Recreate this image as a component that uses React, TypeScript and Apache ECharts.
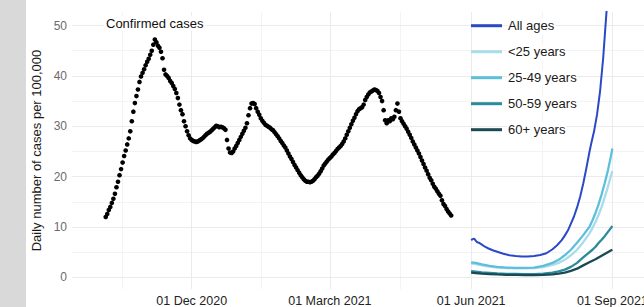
import React, { useEffect, useRef } from "react";
import * as echarts from "echarts";

// Day index: 0 = 01 Sep 2020
const xTickDays = [91, 181, 273, 365];
const xTickLabels = ["01 Dec 2020", "01 March 2021", "01 Jun 2021", "01 Sep 2021"];
const xMinorDays = [45.5, 136, 227, 319];
const yTicks = [0, 10, 20, 30, 40, 50];
const yMinor = [5, 15, 25, 35, 45];

const casesStartDay = 35;
const caseValues = [
  12.0, 12.6, 13.4, 14.0, 14.8, 15.6, 16.6, 17.9, 19.0, 20.3,
  21.5, 22.8, 24.1, 25.2, 26.4, 27.6, 29.0, 31.0, 32.9, 34.6,
  36.0, 37.3, 38.8, 39.9, 40.6, 41.3, 42.1, 42.8, 43.4, 44.2,
  45.0, 46.2, 47.2, 46.7, 46.0, 45.6, 44.8, 43.5, 41.2, 40.3,
  40.0, 39.6, 39.0, 38.6, 38.0, 37.4, 36.6, 35.6, 34.3, 33.2,
  32.4, 31.0, 30.0, 29.0, 28.2, 27.6, 27.3, 27.1, 27.0, 26.9,
  27.0, 27.2, 27.4, 27.6, 27.9, 28.2, 28.5, 28.7, 28.9, 29.2,
  29.5, 29.8, 30.1, 30.0, 29.8, 29.9, 29.8, 29.6, 29.3, 27.3,
  25.6, 24.8, 24.7, 25.0, 25.6, 26.1, 26.7, 27.3, 27.9, 28.5,
  29.1, 29.7, 30.6, 32.2, 33.6, 34.5, 34.6, 34.4, 33.6, 32.9,
  32.3, 31.6, 31.1, 30.7, 30.3, 30.1, 29.9, 29.7, 29.4, 29.2,
  28.8, 28.4, 28.0, 27.6, 27.1, 26.7, 26.2, 25.8, 25.2, 24.6,
  24.0, 23.5, 22.9, 22.3, 21.8, 21.3, 20.8, 20.3, 19.9, 19.5,
  19.2, 19.0, 19.0, 18.9, 19.0, 19.2, 19.5, 19.9, 20.2, 20.6,
  21.1, 21.6, 22.2, 22.6, 23.0, 23.4, 23.7, 24.0, 24.4, 24.7,
  25.1, 25.5, 25.8, 26.1, 26.5, 27.0, 27.6, 28.3, 29.0, 29.7,
  30.4, 31.1, 31.7, 32.4, 33.0, 33.4, 33.6, 33.8, 34.3, 35.2,
  35.8, 36.3, 36.7, 36.9, 37.1, 37.3, 37.2, 37.0, 36.6, 35.8,
  35.0, 33.2, 31.2, 30.6, 31.2, 31.0, 31.6, 31.4, 31.9, 33.2,
  34.5, 32.9, 31.6, 31.0, 30.5, 30.0, 29.5, 28.9, 28.3, 27.7,
  27.0, 26.4, 25.8, 25.2, 24.6, 23.9, 23.2, 22.5, 21.8, 21.2,
  20.5, 19.8, 19.3, 18.6, 18.0, 17.6, 17.1, 16.6, 16.2, 15.3,
  14.6, 14.2, 13.6, 13.1, 12.7, 12.3,
];

const allAgesDays = [273, 274, 275, 276, 277, 278, 280, 282, 284, 287, 290, 294, 298, 302, 306, 310, 314, 318, 322, 326, 329, 332, 334, 336, 338, 340, 342, 344, 346, 348, 350, 351, 353, 355, 357, 359, 361, 363, 365];
const allAgesValues = [7.4, 7.6, 7.7, 7.3, 7.0, 6.9, 6.5, 6.1, 5.8, 5.4, 5.1, 4.7, 4.4, 4.25, 4.15, 4.15, 4.25, 4.45, 4.8, 5.6, 6.4, 7.4, 8.3, 9.3, 10.7, 12.1, 13.9, 16.0, 18.6, 21.6, 24.8, 26.3, 28.9, 32.3, 37.0, 43.5, 52.0, 60.0, 69.0];

const projDays = [273, 276, 280, 285, 290, 296, 302, 308, 314, 320, 326, 330, 334, 338, 342, 346, 350, 352, 354, 356, 358, 360, 362, 364, 365];
const under25Values = [2.8, 2.65, 2.4, 2.15, 1.95, 1.85, 1.8, 1.8, 1.85, 2.05, 2.5, 2.9, 3.5, 4.4, 5.5, 7.0, 8.7, 9.8, 11.0, 12.4, 14.0, 15.9, 17.9, 20.1, 21.1];
const age25to49Values = [3.0, 2.9, 2.6, 2.3, 2.1, 1.95, 1.9, 1.9, 1.95, 2.3, 2.9, 3.5, 4.4, 5.5, 6.9, 8.4, 10.0, 11.3, 12.8, 14.5, 16.5, 18.7, 21.1, 24.0, 25.6];
const age50to59Values = [1.25, 1.15, 1.0, 0.9, 0.8, 0.72, 0.7, 0.65, 0.66, 0.75, 0.95, 1.2, 1.55, 2.1, 2.9, 4.0, 5.0, 5.5, 6.1, 6.85, 7.5, 8.2, 9.0, 9.8, 10.2];
const age60plusValues = [0.95, 0.88, 0.75, 0.68, 0.6, 0.53, 0.5, 0.47, 0.45, 0.5, 0.6, 0.75, 0.95, 1.3, 1.75, 2.4, 3.0, 3.3, 3.6, 3.95, 4.3, 4.65, 5.0, 5.35, 5.5];

const seriesNames = ["All ages", "<25 years", "25-49 years", "50-59 years", "60+ years"];
const seriesColors = ["#2a49c6", "#a9dcea", "#5cc0db", "#2b8b9c", "#1b4a54"];

const FONT = "'Liberation Sans', Arial, Helvetica, sans-serif";

export default function App() {
  const ref = useRef<HTMLDivElement>(null);
  useEffect(() => {
    if (!ref.current) return;
    const chart = echarts.init(ref.current, undefined, { renderer: "svg" });
    const pair = (days: number[], vals: number[]) => days.map((d, i) => [d, vals[i]]);
    const lineVals = [allAgesValues, under25Values, age25to49Values, age50to59Values, age60plusValues];
    const lineDays = [allAgesDays, projDays, projDays, projDays, projDays];
    const major = { color: "#ebebeb", width: 1, type: "solid" };
    const minor = { color: "#f3f3f3", width: 1, type: "solid" };
    const option: any = {
      animation: false,
      backgroundColor: "#ffffff",
      textStyle: { fontFamily: FONT },
      grid: { left: 72, right: 12, top: 12, bottom: 14 },
      xAxis: {
        type: "value",
        min: 13.04,
        max: 388.2,
        axisLine: { show: false },
        axisTick: { show: false },
        splitLine: { show: false },
        axisLabel: {
          customValues: xTickDays,
          formatter: (v: number) => {
            const i = xTickDays.findIndex((d) => Math.abs(d - v) < 0.5);
            return i >= 0 ? xTickLabels[i] : "";
          },
          color: "#222",
          fontSize: 12.5,
          fontFamily: FONT,
          margin: 5,
          hideOverlap: false,
        },
      },
      yAxis: {
        type: "value",
        min: -2.29,
        max: 52.68,
        axisLine: { show: false },
        axisTick: { show: false },
        splitLine: { show: false },
        axisLabel: {
          customValues: yTicks,
          formatter: (v: number) => String(Math.round(v)),
          color: "#6b6b6b",
          fontSize: 12,
          fontFamily: FONT,
          margin: 5,
        },
        name: "Daily number of cases per 100,000",
        nameLocation: "middle",
        nameGap: 27,
        nameTextStyle: { fontSize: 13, color: "#1a1a1a", fontFamily: FONT },
      },
      legend: {
        data: seriesNames,
        orient: "vertical",
        left: 471,
        top: 17.7,
        padding: 0,
        z: 20,
        icon: "rect",
        itemWidth: 31,
        itemHeight: 3,
        itemGap: 10,
        textStyle: {
          fontSize: 13,
          color: "#1a1a1a",
          fontFamily: FONT,
          lineHeight: 16,
          backgroundColor: "#ffffff",
          padding: [0, 1, 0, 1],
        },
        selectedMode: false,
      },
      graphic: [
        { type: "rect", left: 0, top: 0, z: 100, shape: { width: 26, height: 307 }, style: { fill: "#d9d9d9" } },
        {
          type: "text",
          left: 104,
          top: 16,
          z: 50,
          style: {
            text: "Confirmed cases",
            fontSize: 13,
            fill: "#111",
            fontFamily: FONT,
            backgroundColor: "#ffffff",
            padding: [1, 2, 1, 2],
          },
        },
      ],
      series: [
        {
          type: "line",
          name: "grid",
          data: [],
          z: 0,
          silent: true,
          markLine: {
            silent: true,
            z: 0,
            symbol: ["none", "none"],
            label: { show: false },
            animation: false,
            data: [
              ...xMinorDays.map((d) => ({ xAxis: d, lineStyle: minor })),
              ...yMinor.map((v) => ({ yAxis: v, lineStyle: minor })),
              ...xTickDays.map((d) => ({ xAxis: d, lineStyle: major })),
              ...yTicks.map((v) => ({ yAxis: v, lineStyle: major })),
            ],
          },
        },
        {
          type: "scatter",
          name: "Confirmed cases",
          z: 3,
          symbolSize: 4.6,
          itemStyle: { color: "#000", opacity: 1 },
          data: caseValues.map((v, i) => [casesStartDay + i, v]),
        },
        ...seriesNames.map((n, k) => ({
          type: "line",
          name: n,
          z: 4 + k,
          showSymbol: false,
          symbol: "none",
          clip: true,
          color: seriesColors[k],
          lineStyle: { color: seriesColors[k], width: k === 0 ? 2 : 2.3 },
          data: pair(lineDays[k], lineVals[k]),
        })),
      ],
    };
    chart.setOption(option);
    return () => chart.dispose();
  }, []);
  return (
    <div style={{ position: "fixed", left: 0, top: 0, width: 644, height: 307, overflow: "hidden", background: "#fff" }}>
      <div ref={ref} style={{ width: 660, height: 307 }} />
    </div>
  );
}
